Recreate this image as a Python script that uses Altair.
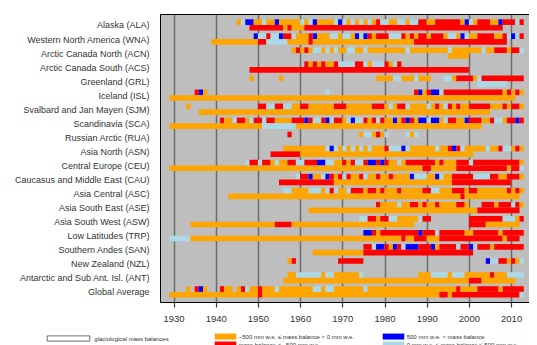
import altair as alt
import pandas as pd

region_names = [
    "Alaska (ALA)", "Western North America (WNA)", "Arctic Canada North (ACN)",
    "Arctic Canada South (ACS)", "Greenland (GRL)", "Iceland (ISL)",
    "Svalbard and Jan Mayen (SJM)", "Scandinavia (SCA)", "Russian Arctic (RUA)",
    "Asia North (ASN)", "Central Europe (CEU)", "Caucasus and Middle East (CAU)",
    "Asia Central (ASC)", "Asia South East (ASE)", "Asia South West (ASW)",
    "Low Latitudes (TRP)", "Southern Andes (SAN)", "New Zealand (NZL)",
    "Antarctic and Sub Ant. Isl. (ANT)", "Global Average",
]

# codes: o = -500..0, r = < -500, b = > 500, l = 0..500, . = no data
# glaciological: (first year, one code per year)
ALA_glac = [(1945, "olbbooloob" "ooooololbo" "ooolblolol" "olorllooll" "ollrroorrr" "rrroblorrr" "oobrrrlr")]
WNA_glac = [(1949, "bllrllbrrl" "ooorboooll" "olloblbror" "rrlllroror" "rorrrollob" "loorrrroor" "lblr")]
ACN_glac = [(1958, "ororollolo" "loollooloo" "oooooooloo" "oooooooloo" "oooooloorr" "rorrl")]
ACS_glac = [(1961, "rororoorll" "llrrlolllr" "olr")]
GRL_glac = [(1948, "o"), (1955, "o"), (1978, "oooollooolooo...llorrrrolrrrrrrrrrr")]
ISL_glac = [(1935, "rbo"), (1966, "l"), (1987, "rborbbl" "rrrrrrrrrrrrrr" "ororo")]
SJM_glac = [(1933, "o"), (1950, "rrllrrlloo" "rroooooorr" "roooooorrr" "olorrloooo" "lorolroroo" "rrrrroooro" "rro")]
SCA_glac = [(1941, "roolrrolrr" "lrroooorrr" "brllrblrro" "lbllrorlro" "oborbrobbl" "bbolrroobr" "rroorllorr" "br")]
RUA_glac = [(1957, "r"), (1974, "ollorol"), (1985, "lol")]
ASN_glac = [(1956, "ooooooooo" "o" "lblol" "olololooor" "lllbl" "oooooo" "loorbrl" "ooooo" "loorlloro")]
CEU_glac = [(1947, "lrrlrroloo" "rrllrrrbbl" "loororllrb" "brbroolorr" "rrrrrorooo" "rrrl" "rrrrrrrrrrr" "o")]
CAU_glac = [(1959, "lrrboolbro" "rlroorloor" "oor" "oooo" "bll" "loobloo" "rrrrr" "llll" "rroorrro")]
ASC_glac = [(1956, "lloooolllo" "lrloolrrro" "rrorooor" "ooooo" "rrllooorrr" "orr" "ooooooo" "roro")]
ASE_glac = [(1978, "rooooloorr" "oroor" "oooo" "r" "ro...rrrorrrlro")]
ASW_glac = [(1974, "llrrorrllo" "oooolrr"), (2000, "rrrrrrrr" "lll" "or")]
TRP_glac = [(1975, "bbro" "rrrrrrrrr" "brrrl" "rrrrrr" "oo" "rrrrrr" "o" "rrrrr")]
SAN_glac = [(1975, "rrlbbrobrl" "bbbrrrborr" "rrlrrblrrr" "o" "rrrrrrr")]
NZL_glac = [(1957, "or"), (1969, "rrrrrr"), (2004, "bllrrorol")]
ANT_glac = [(1957, "oollllllol" "looooool"), (1988, "ooollllolll" "oooooo" "r" "ooo" "llll")]
GLO_glac = [(1933, "o"), (1935, "rbo"), (1941, "roo"),
            (1945, "orlooroool" "oooooooo" "ll" "oll" "ooooooo" "l" "ooooooooooooooooooooo" "r" "oooo" "rrrrr" "o" "rrrrr")]

# geodetic: (start year, end year, code)
ALA_geod = [(1948, 1956, "r"), (1956, 1957, "o"), (1957, 1958, "r"), (1958, 1961, "o"), (1961, 2008, "r")]
WNA_geod = [(1939, 1950, "o"), (1950, 1952, "r"), (1952, 1957, "l"), (1957, 1962, "o"), (1962, 1963, "r"), (1963, 1987, "o"), (1987, 2009, "r")]
ACN_geod = [(1995, 2000, "o")]
ACS_geod = [(1948, 2000, "r")]
GRL_geod = [(2002, 2009, "l")]
ISL_geod = [(1929, 2011, "o")]
SJM_geod = [(1936, 2005, "o")]
SCA_geod = [(1929, 1951, "o"), (1951, 1959, "l"), (1959, 2003, "o")]
RUA_geod = []
ASN_geod = [(1953, 1960, "r"), (1960, 2001, "o")]
CEU_geod = [(1929, 1989, "o"), (1989, 1991, "r"), (1991, 1997, "o"), (1997, 2009, "r"), (2009, 2010, "o"), (2010, 2012, "r"), (2012, 2013, "l")]
CAU_geod = [(1955, 1968, "r"), (1968, 1996, "o"), (1996, 2010, "r")]
ASC_geod = [(1943, 1998, "o"), (1998, 1999, "r"), (1999, 2012, "o")]
ASE_geod = [(1962, 2002, "o"), (2002, 2012, "r")]
ASW_geod = [(1934, 1954, "o"), (1954, 1958, "r"), (1958, 1987, "o"), (2000, 2004, "r"), (2004, 2012, "o")]
TRP_geod = [(1929, 1934, "l"), (1934, 1984, "o"), (1984, 1985, "r"), (1985, 1987, "o"), (1987, 1990, "r"), (1990, 1993, "o"), (1993, 2008, "r"), (2008, 2009, "o"), (2009, 2012, "r")]
SAN_geod = [(1963, 1975, "o"), (1975, 2001, "r")]
NZL_geod = []
ANT_geod = [(1956, 2000, "o"), (2000, 2003, "r"), (2003, 2011, "o")]
GLO_geod = [(1929, 1950, "o"), (1950, 1951, "r"), (1951, 1993, "o"), (1993, 1995, "r"), (1995, 1996, "o"), (1996, 2012, "r"), (2012, 2013, "l")]

glac_all = [ALA_glac, WNA_glac, ACN_glac, ACS_glac, GRL_glac, ISL_glac, SJM_glac, SCA_glac, RUA_glac, ASN_glac,
            CEU_glac, CAU_glac, ASC_glac, ASE_glac, ASW_glac, TRP_glac, SAN_glac, NZL_glac, ANT_glac, GLO_glac]
geod_all = [ALA_geod, WNA_geod, ACN_geod, ACS_geod, GRL_geod, ISL_geod, SJM_geod, SCA_geod, RUA_geod, ASN_geod,
            CEU_geod, CAU_geod, ASC_geod, ASE_geod, ASW_geod, TRP_geod, SAN_geod, NZL_geod, ANT_geod, GLO_geod]

cat_labels = {
    "o": "\u2212500 mm w.e. \u2264 mass balance < 0 mm w.e.",
    "b": "500 mm w.e. < mass balance",
    "r": "mass balance < \u2212500 mm w.e.",
    "l": "0 mm w.e. \u2264 mass balance \u2264 500 mm w.e.",
}
cat_colors = {"o": "#FFA500", "b": "#0000FF", "r": "#FF0000", "l": "#ADD8E6"}
legend_order = ["o", "r", "b", "l"]
kind_labels = ["glaciological mass balances", "geodetic mass balances"]

TOP, MID, BOT = 0.377, 0.78, 1.183

recs = []
for i, (gl, gd) in enumerate(zip(glac_all, geod_all)):
    for start, codes in gl:
        j = 0
        while j < len(codes):
            c = codes[j]
            k = j
            while k < len(codes) and codes[k] == c:
                k += 1
            if c != ".":
                recs.append(dict(x=start + j, x2=start + k, y=i + TOP, y2=i + MID, cat=cat_labels[c]))
            j = k
    for s, e, c in gd:
        recs.append(dict(x=s, x2=e, y=i + MID, y2=i + BOT, cat=cat_labels[c]))
df = pd.DataFrame(recs)

font = "Liberation Sans"
W = 369
x_scale = alt.Scale(domain=[1926.8, 1926.8 + W / 4.22], nice=False, zero=False)
y_scale = alt.Scale(domain=[0, 20.5], reverse=True, nice=False, zero=False)

names_js = "[" + ",".join("'" + n + "'" for n in region_names) + "]"

rects = alt.Chart(df).mark_rect(strokeWidth=0).encode(
    x=alt.X("x:Q", scale=x_scale,
            axis=alt.Axis(values=list(range(1930, 2011, 10)), format="d", title=None,
                          grid=True, gridColor="#6b6b6b", gridWidth=1.5,
                          tickSize=5, tickColor="#333", tickWidth=1.2,
                          domain=True, domainColor="black", domainWidth=1,
                          labelFontSize=9.5, labelColor="#333", labelPadding=6, labelFont=font)),
    x2="x2:Q",
    y=alt.Y("y:Q", scale=y_scale,
            axis=alt.Axis(values=[i + MID for i in range(len(region_names))],
                          labelExpr=names_js + "[round(datum.value - 0.78)]",
                          ticks=False, domain=True, domainColor="black", domainWidth=1,
                          grid=False, title=None,
                          labelPadding=11, labelFontSize=9, labelColor="#333",
                          labelFont=font, labelOverlap=False, labelBound=False)),
    y2="y2:Q",
    color=alt.Color("cat:N",
                    scale=alt.Scale(domain=[cat_labels[c] for c in legend_order],
                                    range=[cat_colors[c] for c in legend_order]),
                    legend=alt.Legend(orient="none", legendX=62, legendY=318.8, columns=2,
                                      direction="vertical",
                                      symbolType="M-3.086,-0.857H3.086V0.857H-3.086Z", symbolSize=49,
                                      symbolStrokeWidth=0, labelFontSize=6, labelFont=font,
                                      labelColor="#333", title=None, columnPadding=27,
                                      rowPadding=1.2, labelOffset=9.7, padding=0, labelLimit=400)),
)

top_axis = alt.Chart(df).mark_point(opacity=0).encode(
    x=alt.X("x:Q", scale=x_scale,
            axis=alt.Axis(orient="top", labels=False, ticks=False, grid=False, title=None,
                          domain=True, domainColor="black", domainWidth=1)),
)

kind_df = pd.DataFrame({"kind": kind_labels})
box_path = "M-8.52,-1.05H8.52V1.05H-8.52Z"
kinds = alt.Chart(kind_df).mark_point(filled=False, color="black", strokeWidth=0.8, size=25, clip=True).encode(
    x=alt.value(-60),
    y=alt.value(-60),
    shape=alt.Shape("kind:N", scale=alt.Scale(domain=kind_labels, range=[box_path, box_path]),
                    legend=alt.Legend(orient="none", legendX=-94.5, legendY=321.5, title=None,
                                      symbolSize=25,
                                      labelFontSize=6, labelFont=font, labelColor="#333",
                                      symbolStrokeColor="black", symbolFillColor="transparent",
                                      symbolStrokeWidth=0.8, rowPadding=0, labelOffset=22.8, padding=0)),
)

chart = alt.layer(rects, top_axis, kinds).resolve_axis(x="independent").properties(
    width=W, height=288,
    autosize="none",
    padding={"left": 152, "top": 6, "right": 0, "bottom": 43},
).configure_view(fill="#bebebe", stroke=None)

chart.save("out.html", embed_options={"renderer": "svg", "actions": False})
